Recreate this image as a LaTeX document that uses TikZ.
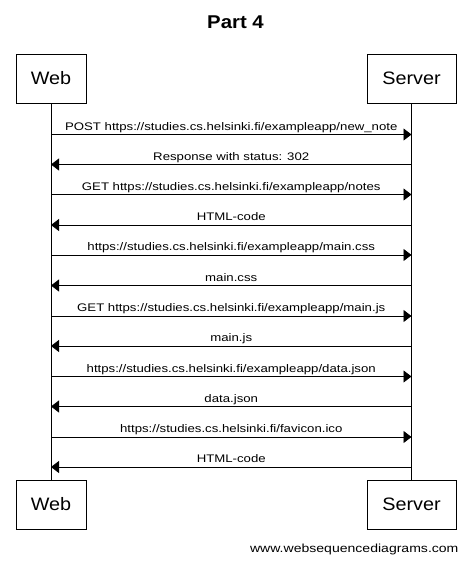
\documentclass[tikz,border=0pt]{standalone}
\usepackage{fontspec}
\setmainfont{Liberation Sans}
\newfontfamily\lblfont[FakeStretch=1.2]{Liberation Sans}
\newfontfamily\actorfont[FakeStretch=1.1]{Liberation Sans}
\usetikzlibrary{arrows.meta, positioning}

\begin{document}
\begin{tikzpicture}[
    x=1pt, y=-1pt,
    actor/.style = {draw, line width=0.8pt, minimum width=70pt,
                    minimum height=49pt, inner sep=0pt, font=\actorfont\fontsize{18}{21}\selectfont},
    server/.style = {actor, minimum width=89pt},
    msg/.style   = {-{Triangle[length=8pt, width=12pt]}, line width=0.8pt},
    lbl/.style   = {above, inner sep=1.5pt, text depth=0.25em,
                    font=\lblfont\fontsize{11}{13}\selectfont}
  ]
  \useasboundingbox (0,0) rectangle (471,563);

  % Title
  \node[font=\actorfont\bfseries\fontsize{18.5}{21}\selectfont] (title) at (235.5,22) {Part 4};

  % Participants
  \node[actor]  (webtop)    at (51,78.5)   {Web};
  \node[server] (servertop) at (411.5,78.5) {Server};
  \node[actor]  (webbot)    at (51,504.5)  {Web};
  \node[server] (serverbot) at (411.5,504.5) {Server};

  % Lifelines
  \draw[line width=0.8pt] (webtop) -- (webbot);
  \draw[line width=0.8pt] (servertop) -- (serverbot);

  % Message points
  \coordinate (w1)  at (51,134.5);  \coordinate (s1)  at (411.5,134.5);
  \coordinate (w2)  at (51,164.5);  \coordinate (s2)  at (411.5,164.5);
  \coordinate (w3)  at (51,194.5);  \coordinate (s3)  at (411.5,194.5);
  \coordinate (w4)  at (51,225);    \coordinate (s4)  at (411.5,225);
  \coordinate (w5)  at (51,255);    \coordinate (s5)  at (411.5,255);
  \coordinate (w6)  at (51,285.5);  \coordinate (s6)  at (411.5,285.5);
  \coordinate (w7)  at (51,316);    \coordinate (s7)  at (411.5,316);
  \coordinate (w8)  at (51,346);    \coordinate (s8)  at (411.5,346);
  \coordinate (w9)  at (51,376.5);  \coordinate (s9)  at (411.5,376.5);
  \coordinate (w10) at (51,406.5);  \coordinate (s10) at (411.5,406.5);
  \coordinate (w11) at (51,437);    \coordinate (s11) at (411.5,437);
  \coordinate (w12) at (51,467);    \coordinate (s12) at (411.5,467);

  % Messages
  \draw[msg] (w1)  -- node[lbl] {POST https://studies.cs.helsinki.fi/exampleapp/new\_note} (s1);
  \draw[msg] (s2)  -- node[lbl] {Response with status: 302} (w2);
  \draw[msg] (w3)  -- node[lbl] {GET https://studies.cs.helsinki.fi/exampleapp/notes} (s3);
  \draw[msg] (s4)  -- node[lbl] {HTML-code} (w4);
  \draw[msg] (w5)  -- node[lbl] {https://studies.cs.helsinki.fi/exampleapp/main.css} (s5);
  \draw[msg] (s6)  -- node[lbl] {main.css} (w6);
  \draw[msg] (w7)  -- node[lbl] {GET https://studies.cs.helsinki.fi/exampleapp/main.js} (s7);
  \draw[msg] (s8)  -- node[lbl] {main.js} (w8);
  \draw[msg] (w9)  -- node[lbl] {https://studies.cs.helsinki.fi/exampleapp/data.json} (s9);
  \draw[msg] (s10) -- node[lbl] {data.json} (w10);
  \draw[msg] (w11) -- node[lbl] {https://studies.cs.helsinki.fi/favicon.ico} (s11);
  \draw[msg] (s12) -- node[lbl] {HTML-code} (w12);

  % Footer
  \node[font=\lblfont\fontsize{11.7}{14}\selectfont, anchor=east] (footer) at (462,549) {www.websequencediagrams.com};
\end{tikzpicture}
\end{document}
